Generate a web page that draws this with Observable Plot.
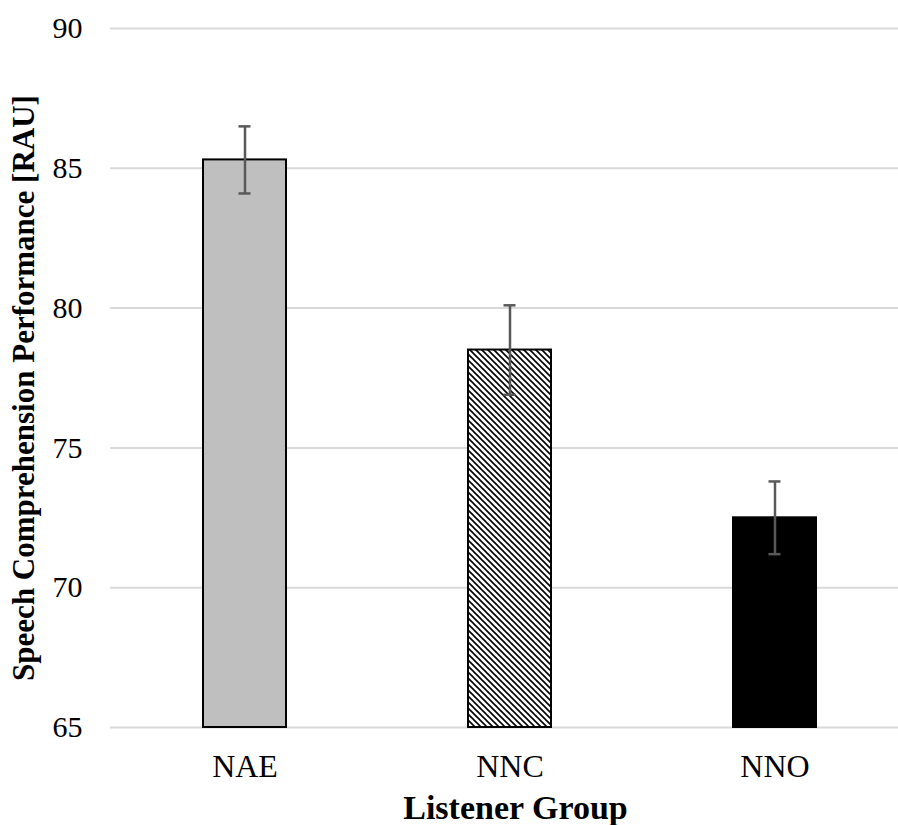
<!DOCTYPE html>
<html>
<head>
<meta charset="utf-8">
<script src="https://cdn.jsdelivr.net/npm/d3@7"></script>
<script src="https://cdn.jsdelivr.net/npm/@observablehq/plot@0.6"></script>
<style>
  html, body { margin: 0; padding: 0; background: #fff; }
  svg { display: block; }
</style>
</head>
<body>
<div id="chart"></div>
<script>
const groups = ["NAE", "NNC", "NNO"];
const means = [85.3, 78.5, 72.5];
const errors = [1.2, 1.6, 1.3];
const fills = ["#bfbfbf", "url(#hatch)", "#000000"];
const yTicks = [65, 70, 75, 80, 85, 90];
const yLabel = "Speech Comprehension Performance [RAU]";
const xLabel = "Listener Group";

const data = groups.map((g, i) => ({group: g, mean: means[i], lo: means[i] - errors[i], hi: means[i] + errors[i], fill: fills[i]}));

const font = "'Liberation Serif', 'Times New Roman', serif";

const chart = Plot.plot({
  width: 898,
  height: 825,
  marginLeft: 110,
  marginRight: 0,
  marginTop: 28,
  marginBottom: 98,
  style: {fontFamily: font, fontSize: "30px", color: "#000", background: "#fff"},
  x: {domain: groups, paddingInner: 0.687, paddingOuter: 0.33, align: 0.53, label: null},
  y: {domain: [65, 90], ticks: yTicks, label: null},
  color: {type: "identity"},
  marks: [
    Plot.gridY(yTicks, {stroke: "#d9d9d9", strokeOpacity: 1, strokeWidth: 2}),
    Plot.axisY({ticks: yTicks, tickSize: 0, tickPadding: 28, label: null, fontSize: 30}),
    Plot.axisX({tickSize: 0, tickPadding: 27, label: null, fontSize: 32}),
    Plot.barY(data, {x: "group", y1: 65, y2: "mean", fill: "fill", stroke: "#000", strokeWidth: 2}),
    Plot.ruleX(data, {x: "group", y1: "lo", y2: "hi", stroke: "#595959", strokeWidth: 2.5}),
    Plot.tickY(data, {x: "group", y: "lo", stroke: "#595959", strokeWidth: 2.5, insetLeft: 35.5, insetRight: 35.5}),
    Plot.tickY(data, {x: "group", y: "hi", stroke: "#595959", strokeWidth: 2.5, insetLeft: 35.5, insetRight: 35.5}),
    Plot.text([xLabel], {frameAnchor: "bottom", lineAnchor: "bottom", dx: 11, dy: 91, text: d => d, fontWeight: "bold", fontSize: 34, fill: "#000"}),
    Plot.text([yLabel], {frameAnchor: "left", rotate: -90, textAnchor: "middle", lineAnchor: "middle", dx: -86, dy: 10, text: d => d, fontWeight: "bold", fontSize: 31, fill: "#000"})
  ]
});

// hatch pattern definition
const ns = "http://www.w3.org/2000/svg";
const defs = document.createElementNS(ns, "defs");
const pat = document.createElementNS(ns, "pattern");
pat.setAttribute("id", "hatch");
pat.setAttribute("patternUnits", "userSpaceOnUse");
pat.setAttribute("width", "6");
pat.setAttribute("height", "6");
const bg = document.createElementNS(ns, "rect");
bg.setAttribute("width", "6");
bg.setAttribute("height", "6");
bg.setAttribute("fill", "#fff");
pat.appendChild(bg);
const p = document.createElementNS(ns, "path");
p.setAttribute("d", "M0,0 L6,6 M-1,5 L1,7 M5,-1 L7,1");
p.setAttribute("stroke", "#000");
p.setAttribute("stroke-width", "1.6");
pat.appendChild(p);
defs.appendChild(pat);
chart.insertBefore(defs, chart.firstChild);

document.getElementById("chart").appendChild(chart);
</script>
</body>
</html>
